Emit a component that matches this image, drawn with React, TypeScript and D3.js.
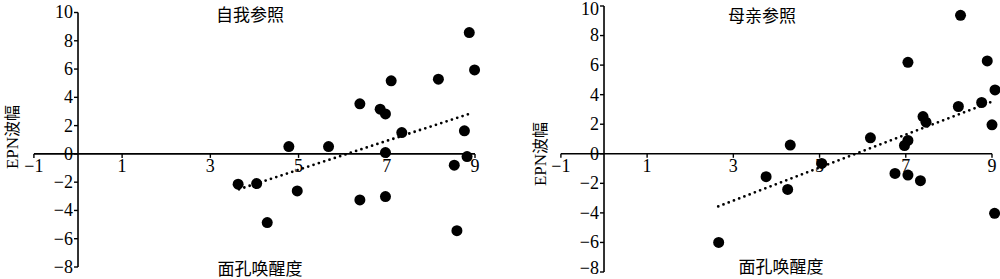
import React from "react";
import * as d3 from "d3";

// ---------- data ----------
const xTicks = [-1, 1, 3, 5, 7, 9];
const yTicks = [-8, -6, -4, -2, 0, 2, 4, 6, 8, 10];

const selfX = [8.87, 8.99, 7.1, 8.17, 6.39, 6.85, 6.97, 7.34, 8.76, 4.78, 5.68, 6.97, 8.82, 8.53, 4.05, 4.97, 6.39, 6.97, 4.29, 8.59, 3.63];
const selfY = [8.58, 5.94, 5.17, 5.28, 3.54, 3.16, 2.83, 1.51, 1.63, 0.52, 0.52, 0.09, -0.19, -0.8, -2.1, -2.62, -3.26, -3.02, -4.86, -5.43, -2.14];
const selfTrendX = [3.65, 8.92];
const selfTrendY = [-2.5, 2.88];

const motherX = [8.27, 7.05, 8.89, 9.07, 8.22, 8.76, 7.4, 7.47, 9.0, 6.18, 7.05, 6.97, 4.32, 5.05, 6.75, 7.05, 7.34, 3.76, 4.26, 9.06, 2.66];
const motherY = [9.37, 6.19, 6.28, 4.32, 3.2, 3.47, 2.52, 2.14, 1.96, 1.08, 0.9, 0.56, 0.59, -0.65, -1.33, -1.44, -1.82, -1.55, -2.41, -4.03, -6.0];
const motherTrendX = [2.65, 9.0];
const motherTrendY = [-3.56, 3.53];

const serif = "'Liberation Serif', 'Times New Roman', serif";
const cjk = "'Noto Sans CJK SC', sans-serif";

type PanelProps = {
  title: string;
  xs: number[];
  ys: number[];
  tx: number[];
  ty: number[];
  x0: number;
  x9: number;
  yTop: number;
  yBot: number;
  titleX: number;
  titleY: number;
  xLabelX: number;
  xLabelY: number;
  yLabelX: number;
  yLabelY: number;
};

function fmt(t: number) {
  return t < 0 ? "\u2212" + Math.abs(t) : String(t);
}

function Panel(p: PanelProps) {
  const x = d3.scaleLinear().domain([-1, 9]).range([p.x0, p.x9]);
  const y = d3.scaleLinear().domain([-8, 10]).range([p.yBot, p.yTop]);
  const line = d3
    .line<number>()
    .x((d) => x(p.tx[d]))
    .y((d) => y(p.ty[d]));
  const ax = x(0);
  const ay = y(0);
  return (
    <g>
      <line x1={ax} x2={ax} y1={y(-8)} y2={y(10)} stroke="#000" strokeWidth={1.6} />
      {yTicks.map((t) => (
        <g key={"y" + t}>
          <line x1={ax - 4} x2={ax} y1={y(t)} y2={y(t)} stroke="#000" strokeWidth={1.4} />
          <text
            x={ax - 5}
            y={Math.min(Math.max(y(t), 9), 268.5)}
            dy="0.33em"
            textAnchor="end"
            fontFamily={serif}
            fontSize={18}
          >
            {fmt(t)}
          </text>
        </g>
      ))}
      <line x1={x(-1)} x2={x(9)} y1={ay} y2={ay} stroke="#000" strokeWidth={1.6} />
      {xTicks.map((t) => (
        <g key={"x" + t}>
          <line x1={x(t)} x2={x(t)} y1={ay} y2={ay + 4} stroke="#000" strokeWidth={1.4} />
          <text x={x(t)} y={ay + 18} textAnchor="middle" fontFamily={serif} fontSize={18}>
            {fmt(t)}
          </text>
        </g>
      ))}
      <path
        d={line(d3.range(p.tx.length)) || ""}
        fill="none"
        stroke="#000"
        strokeWidth={2.8}
        strokeLinecap="round"
        strokeDasharray="0 5.6"
      />
      {p.xs.map((v, i) => (
        <circle key={i} cx={x(v)} cy={y(p.ys[i])} r={5.5} fill="#000" />
      ))}
      <text x={p.titleX} y={p.titleY} textAnchor="middle" fontFamily={cjk} fontSize={17}>
        {p.title}
      </text>
      <text x={p.xLabelX} y={p.xLabelY} textAnchor="middle" fontFamily={cjk} fontSize={17}>
        面孔唤醒度
      </text>
      <text
        transform={`translate(${p.yLabelX},${p.yLabelY}) rotate(-90)`}
        textAnchor="middle"
        dy="0.35em"
        fontFamily={serif}
        fontSize={17}
      >
        EPN<tspan fontFamily={cjk} fontSize={16}>波幅</tspan>
      </text>
    </g>
  );
}

export default function App() {
  return (
    <svg
      width={1000}
      height={279}
      style={{ position: "absolute", left: 0, top: 0, background: "#fff" }}
    >
      <rect width={1000} height={279} fill="#fff" />
      <Panel
        title="自我参照"
        xs={selfX}
        ys={selfY}
        tx={selfTrendX}
        ty={selfTrendY}
        x0={33.9}
        x9={475}
        yTop={12.5}
        yBot={267}
        titleX={250}
        titleY={21}
        xLabelX={260}
        xLabelY={275}
        yLabelX={12.5}
        yLabelY={137}
      />
      <Panel
        title="母亲参照"
        xs={motherX}
        ys={motherY}
        tx={motherTrendX}
        ty={motherTrendY}
        x0={560.9}
        x9={992}
        yTop={6}
        yBot={272}
        titleX={762}
        titleY={22}
        xLabelX={781}
        xLabelY={273}
        yLabelX={540}
        yLabelY={154}
      />
    </svg>
  );
}
